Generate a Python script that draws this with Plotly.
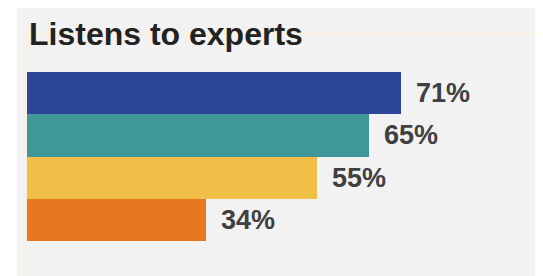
import plotly.graph_objects as go

title_text = "Listens to experts"
categories = ["Group A", "Group B", "Group C", "Group D"]
values = [71, 65, 55, 34]
labels = ["71%", "65%", "55%", "34%"]
colors = ["#2e4699", "#409799", "#f1be48", "#e87721"]

OFF = 8  # page body margin
W, H = 543 - OFF, 276 - OFF
ml, mr, mt, mb = 27 - OFF, 0, 72 - OFF, 35
pw, ph = W - ml - mr, H - mt - mb

def px_x(px):
    return (px - OFF - ml) / pw

def px_y(py):
    return (H - mb - (py - OFF)) / ph

fig = go.Figure()
fig.add_trace(go.Bar(
    y=categories, x=values, orientation="h",
    marker=dict(color=colors, line=dict(width=0)),
    hoverinfo="skip",
))

for c, v, t in zip(categories, values, labels):
    fig.add_annotation(
        x=v, y=c, xref="x", yref="y", text="<b>" + t + "</b>", showarrow=False,
        xanchor="left", yanchor="middle", xshift=13,
        font=dict(family="Liberation Sans, Arial", size=27, color="#404040"),
    )

fig.add_annotation(
    x=px_x(27), y=px_y(33.5), xref="paper", yref="paper",
    text="<b>" + title_text + "</b>", showarrow=False,
    xanchor="left", yanchor="middle",
    font=dict(family="Liberation Sans, Arial", size=32, color="#222222"),
)

shapes = [
    dict(type="rect", xref="paper", yref="paper", x0=px_x(17), x1=px_x(560),
         y0=px_y(290), y1=px_y(2), fillcolor="#f2f2f2", line=dict(width=0), layer="below"),
    dict(type="line", xref="paper", yref="paper", x0=px_x(26), x1=px_x(560),
         y0=px_y(33.5), y1=px_y(33.5), line=dict(color="#fcf1d8", width=1.5), layer="below"),
    dict(type="line", xref="paper", yref="paper", x0=px_x(26.5), x1=px_x(26.5),
         y0=px_y(290), y1=px_y(33.5), line=dict(color="#fcf1d8", width=2), layer="below"),
]

fig.update_layout(
    width=W, height=H,
    margin=dict(l=ml, r=mr, t=mt, b=mb, pad=0),
    paper_bgcolor="white", plot_bgcolor="rgba(0,0,0,0)",
    bargap=0, showlegend=False, shapes=shapes,
    xaxis=dict(range=[0, pw / 5.265], visible=False, fixedrange=True),
    yaxis=dict(autorange="reversed", visible=False, fixedrange=True),
)

fig.write_html("out.html")
